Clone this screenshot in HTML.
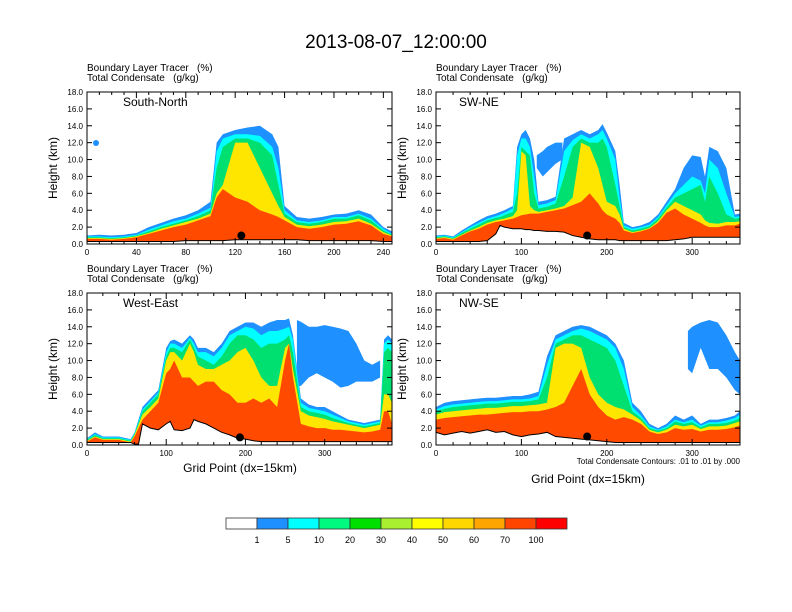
<!DOCTYPE html>
<html><head><meta charset="utf-8">
<style>
html,body{margin:0;padding:0;background:#fff;}
svg{display:block;font-family:"Liberation Sans",sans-serif;}
text{white-space:pre;}
</style></head>
<body>
<svg id="chart" width="792" height="612" viewBox="0 0 792 612">
<text x="396" y="48" font-size="19" text-anchor="middle">2013-08-07_12:00:00</text>
</svg>
<script>
// ---------- data ----------
const levelNames = ["1","5","10","20","30","40","50","60","70","100"];
const levelColors = ["#ffffff","#1e90ff","#00ffff","#00fa80","#00e000","#a8f030","#ffff00","#ffd700","#ffa500","#ff4500","#ff0000"];

// Panel 1: South-North
const p1X = [0,10,20,30,40,50,60,70,80,90,100,105,110,120,130,140,150,155,160,170,180,190,200,210,220,230,240,247];
const p1Terrain = [0.3,0.3,0.3,0.3,0.3,0.3,0.3,0.3,0.4,0.4,0.4,0.4,0.4,0.5,0.5,0.5,0.5,0.5,0.5,0.5,0.4,0.4,0.4,0.4,0.4,0.4,0.3,0.3];
const p1Blue = [1.0,1.1,1.0,1.1,1.3,2.0,2.5,3.0,3.4,4.0,5.0,12.0,13.0,13.5,13.8,14.0,13.0,11.5,4.5,3.2,3.0,3.2,3.5,3.6,4.0,3.5,2.0,1.5];
const p1Cyan = [0.9,0.9,0.8,0.9,1.1,1.7,2.2,2.7,3.0,3.6,4.3,11.0,12.5,13.0,13.0,12.8,11.5,9.0,4.0,2.8,2.6,2.8,3.2,3.2,3.6,3.0,1.8,1.2];
const p1Green = [0.8,0.8,0.7,0.8,1.0,1.5,2.0,2.4,2.8,3.3,4.0,9.0,11.5,12.5,12.5,12.0,10.5,7.0,3.6,2.6,2.4,2.6,3.0,3.0,3.4,2.8,1.6,1.1];
const p1Yellow = [0.7,0.7,0.6,0.7,0.9,1.3,1.8,2.2,2.6,3.0,3.6,6.0,7.0,12.0,12.0,9.0,6.0,4.5,3.2,2.3,2.1,2.3,2.6,2.7,3.0,2.4,1.4,1.0];
const p1Red = [0.6,0.6,0.5,0.6,0.8,1.2,1.6,2.0,2.3,2.8,3.3,5.5,6.5,5.5,5.0,4.0,3.5,3.2,2.8,2.0,1.8,2.0,2.3,2.4,2.7,2.2,1.2,0.9];
const p1UpBase = [];
const p1UpTop = [];
const p1UpX = [];

// Panel 2: SW-NE
const p2X = [0,10,20,30,40,50,60,70,75,80,90,95,100,105,110,115,120,130,140,150,160,170,180,190,195,200,210,215,220,230,240,250,260,270,280,290,300,310,315,320,330,340,350,356];
const p2Terrain = [0.3,0.3,0.3,0.3,0.3,0.3,0.4,1.2,2.2,2.0,1.8,1.8,1.8,1.7,1.7,1.6,1.6,1.5,1.5,1.4,1.0,0.8,0.6,0.5,0.5,0.5,0.5,0.4,0.4,0.4,0.4,0.4,0.4,0.4,0.5,0.6,0.8,0.8,0.8,0.8,0.8,0.8,0.8,0.8];
const p2Blue = [1.0,1.1,0.9,1.6,2.2,2.8,3.3,3.6,3.8,4.0,4.5,11.5,13.0,13.5,12.5,10.0,5.0,5.2,5.6,12.5,13.0,13.5,13.0,13.5,14.2,13.2,11.0,7.0,2.5,2.0,2.2,2.6,3.5,5.0,6.5,9.0,10.5,10.3,8.0,11.5,11.0,9.0,3.5,3.6];
const p2Cyan = [0.9,1.0,0.8,1.4,2.0,2.5,3.0,3.3,3.5,3.7,4.2,10.5,12.5,12.5,11.5,8.0,4.6,4.8,5.2,11.0,12.3,13.0,12.5,13.0,13.5,12.5,10.0,5.5,2.2,1.8,2.0,2.3,3.2,4.6,6.0,7.0,8.0,7.5,6.0,10.0,9.0,6.0,3.2,3.3];
const p2Green = [0.8,0.9,0.7,1.3,1.8,2.3,2.8,3.1,3.2,3.4,3.8,6.0,11.5,11.0,10.5,6.0,4.2,4.4,4.8,8.0,11.5,12.5,12.0,12.0,12.5,11.5,7.0,4.5,2.0,1.6,1.8,2.1,3.0,4.3,5.5,6.0,6.5,7.0,5.0,8.0,6.0,3.5,3.0,3.1];
const p2Yellow = [0.7,0.8,0.6,1.1,1.6,2.0,2.5,2.8,2.9,3.0,3.3,4.0,11.0,10.5,4.5,4.0,3.8,4.0,4.2,4.5,5.5,12.0,11.5,9.0,7.0,5.0,4.5,3.5,1.8,1.4,1.6,1.9,2.7,4.0,5.0,4.5,4.0,3.5,2.8,2.5,2.4,2.6,2.6,2.7];
const p2Red = [0.6,0.7,0.5,1.0,1.5,1.8,2.3,2.6,2.7,2.8,3.0,3.2,3.4,3.5,3.6,3.6,3.6,3.8,4.0,4.2,4.6,5.0,6.0,4.8,4.0,3.5,3.0,2.5,1.6,1.3,1.5,1.8,2.5,3.7,4.2,3.5,3.0,2.5,2.2,2.0,2.0,2.2,2.2,2.4];
const p2UpX = [118,125,130,140,148];
const p2UpBase = [9.0,8.0,8.5,9.5,10.0];
const p2UpTop = [10.5,11.0,11.5,12.0,12.0];

// Panel 3: West-East
const p3X = [0,10,20,30,40,50,55,60,65,70,80,90,100,105,110,120,130,135,140,150,160,170,180,190,200,210,220,230,240,250,255,260,270,280,290,300,310,320,330,340,350,360,370,375,380,385];
const p3Terrain = [0.3,0.3,0.3,0.3,0.3,0.3,0.3,0.1,0.1,2.5,2.0,1.8,2.5,2.8,1.8,1.7,2.0,3.0,2.8,2.5,2.0,1.5,1.2,0.8,0.7,0.5,0.4,0.4,0.4,0.4,0.4,0.4,0.4,0.4,0.4,0.4,0.4,0.4,0.4,0.4,0.4,0.4,0.4,0.4,0.4,0.4];
const p3Blue = [0.8,1.5,1.0,1.0,1.0,0.8,0.7,1.5,3.0,4.5,5.5,6.5,11.5,12.3,12.5,12.0,13.0,12.5,11.5,11.5,11.0,12.0,13.5,14.0,14.5,14.5,14.0,14.5,14.8,14.8,15.0,13.0,5.5,4.8,4.5,4.5,4.0,3.5,3.0,2.8,2.6,2.8,3.0,12.5,13.0,12.5];
const p3Cyan = [0.7,1.3,0.9,0.9,0.9,0.7,0.6,1.4,2.8,4.2,5.2,6.2,11.0,12.0,12.0,11.5,12.7,12.0,11.0,11.0,10.5,11.5,13.0,13.5,14.0,13.8,13.0,13.5,13.5,13.8,14.0,12.5,5.0,4.4,4.2,4.0,3.6,3.2,2.8,2.6,2.4,2.6,2.8,12.0,12.5,12.0];
const p3Green = [0.6,1.2,0.8,0.8,0.8,0.6,0.5,1.3,2.6,4.0,5.0,6.0,10.5,11.5,11.5,11.0,12.5,11.5,10.5,10.0,9.5,10.5,12.0,13.0,13.0,12.5,11.5,12.0,12.0,12.5,13.0,11.0,4.5,4.0,3.8,3.6,3.2,2.9,2.6,2.4,2.2,2.4,2.6,11.0,11.5,11.0];
const p3Yellow = [0.5,1.0,0.7,0.7,0.7,0.5,0.4,1.2,2.4,3.6,4.5,5.5,10.0,11.0,11.0,10.0,12.0,11.0,9.5,9.0,9.0,9.5,10.0,11.0,11.5,10.0,8.0,7.0,7.0,11.5,12.0,9.0,4.0,3.5,3.3,3.1,2.8,2.6,2.4,2.2,2.0,2.2,2.4,6.0,6.0,5.0];
const p3Red = [0.4,0.9,0.6,0.6,0.6,0.4,0.3,1.0,2.0,3.0,4.0,5.0,8.5,9.0,10.0,8.0,8.0,7.5,7.0,7.5,7.5,6.5,6.0,5.0,5.0,5.5,5.0,5.5,4.5,10.0,12.0,8.0,2.5,2.2,2.0,2.0,1.8,1.8,1.7,1.6,1.5,1.6,1.8,4.0,4.0,2.5];
const p3UpX = [265,270,280,290,300,310,320,330,340,350,360,370];
const p3UpBase = [7.0,7.0,8.0,8.5,8.0,7.5,6.8,7.0,7.5,7.5,7.5,8.0];
const p3UpTop = [14.8,14.6,14.0,14.0,14.2,14.0,13.8,13.5,12.0,10.0,9.5,10.0];

// Panel 4: NW-SE
const p4X = [0,10,20,30,40,50,60,70,80,90,100,110,120,130,140,150,160,170,180,190,200,210,220,230,240,250,260,270,280,290,300,310,320,330,340,350,356];
const p4Terrain = [1.5,1.2,1.4,1.6,1.4,1.6,1.8,1.5,1.6,1.2,1.0,1.2,1.3,1.5,1.0,0.9,0.8,0.7,0.6,0.5,0.4,0.3,0.3,0.3,0.3,0.3,0.3,0.3,0.3,0.3,0.3,0.3,0.3,0.3,0.3,0.3,0.3];
const p4Blue = [4.5,5.0,5.2,5.3,5.4,5.5,5.6,5.6,5.7,5.8,5.8,6.0,6.3,10.5,13.0,13.5,14.0,14.2,14.0,13.5,13.0,12.0,10.0,5.0,4.0,2.5,2.0,2.5,3.5,3.0,3.5,2.5,3.0,3.0,3.2,3.5,4.0];
const p4Cyan = [4.2,4.6,4.8,4.9,5.0,5.1,5.2,5.2,5.3,5.4,5.4,5.5,5.8,9.5,12.5,13.0,13.5,13.8,13.5,13.0,12.5,11.5,9.0,4.5,3.5,2.2,1.8,2.2,3.0,2.7,3.0,2.3,2.7,2.7,2.9,3.2,3.6];
const p4Green = [4.0,4.3,4.5,4.6,4.7,4.8,4.9,4.9,5.0,5.1,5.1,5.2,5.4,8.0,12.0,12.5,13.0,13.0,12.5,12.0,11.5,10.0,7.0,4.0,3.2,2.0,1.7,2.0,2.8,2.5,2.7,2.1,2.5,2.5,2.6,2.9,3.2];
const p4Yellow = [3.6,3.9,4.0,4.1,4.2,4.3,4.4,4.4,4.5,4.6,4.6,4.7,4.8,5.0,11.5,12.0,12.0,11.5,8.0,6.0,5.0,4.5,4.2,3.6,2.9,1.8,1.5,1.8,2.4,2.2,2.4,1.9,2.2,2.2,2.3,2.6,2.8];
const p4Red = [3.0,3.2,3.3,3.4,3.5,3.6,3.6,3.7,3.8,3.9,3.9,4.0,4.0,4.2,4.5,5.0,7.0,9.0,6.0,4.5,3.5,3.0,3.3,3.0,2.5,1.6,1.3,1.5,2.0,1.8,1.9,1.6,1.8,1.8,1.9,2.1,2.3];
const p4UpX = [295,300,310,320,330,340,350,356];
const p4UpBase = [9.0,8.5,11.5,9.0,9.0,8.0,6.5,6.0];
const p4UpTop = [13.5,14.0,14.5,14.8,14.5,13.0,11.0,10.0];

const yTicks = [0,2,4,6,8,10,12,14,16,18];
const yTickLabels = ["0.0","2.0","4.0","6.0","8.0","10.0","12.0","14.0","16.0","18.0"];

const panels = [
 {key:"south-north",label:"South-North",box:[87,92,392,244],xmax:247,xTicks:[0,40,80,120,160,200,240],minor:10,
  X:p1X,T:p1Terrain,L:[p1Blue,p1Cyan,p1Green,p1Yellow,p1Red],UX:p1UpX,UB:p1UpBase,UT:p1UpTop,dot:[125,1.0]},
 {key:"sw-ne",label:"SW-NE",box:[436,92,740,244],xmax:356,xTicks:[0,100,200,300],minor:20,
  X:p2X,T:p2Terrain,L:[p2Blue,p2Cyan,p2Green,p2Yellow,p2Red],UX:p2UpX,UB:p2UpBase,UT:p2UpTop,dot:[177,1.0]},
 {key:"west-east",label:"West-East",box:[87,293,392,445],xmax:385,xTicks:[0,100,200,300],minor:20,
  X:p3X,T:p3Terrain,L:[p3Blue,p3Cyan,p3Green,p3Yellow,p3Red],UX:p3UpX,UB:p3UpBase,UT:p3UpTop,dot:[193,0.9]},
 {key:"nw-se",label:"NW-SE",box:[436,293,740,445],xmax:356,xTicks:[0,100,200,300],minor:20,
  X:p4X,T:p4Terrain,L:[p4Blue,p4Cyan,p4Green,p4Yellow,p4Red],UX:p4UpX,UB:p4UpBase,UT:p4UpTop,dot:[177,1.0]}
];
const fillColors = ["#1e90ff","#00ffff","#00e070","#ffe600","#ff4a00"];

const NS="http://www.w3.org/2000/svg";
const svg=document.getElementById('chart');
function mk(tag,attrs,parent){const e=document.createElementNS(NS,tag);for(const k in attrs)e.setAttribute(k,attrs[k]);(parent||svg).appendChild(e);return e;}

panels.forEach((p,pi)=>{
  const [x0,y0,x1,y1]=p.box;
  const sx=v=>x0+(v/p.xmax)*(x1-x0);
  const sy=v=>y1-(v/18)*(y1-y0);
  const g=mk('g',{});
  
  
  const cid='clip'+pi;
  const cp=mk('clipPath',{id:cid},g);mk('rect',{x:x0,y:y0,width:x1-x0,height:y1-y0},cp);
  const plot=mk('g',{'clip-path':'url(#'+cid+')'},g);
  p.L.forEach((arr,li)=>{
    let d='M'+sx(p.X[0])+','+sy(p.T[0]);
    p.X.forEach((xv,i)=>{d+='L'+sx(xv)+','+sy(arr[i]);});
    for(let i=p.X.length-1;i>=0;i--)d+='L'+sx(p.X[i])+','+sy(p.T[i]);
    const path=mk('path',{d:d+'Z',fill:fillColors[li]},plot);
    
    
    if(li===0 && p.UX.length){
      let u='M'+sx(p.UX[0])+','+sy(p.UB[0]);
      p.UX.forEach((xv,i)=>{u+='L'+sx(xv)+','+sy(p.UT[i]);});
      for(let i=p.UX.length-1;i>=0;i--)u+='L'+sx(p.UX[i])+','+sy(p.UB[i]);
      const up=mk('path',{d:u+'Z',fill:fillColors[0]},plot);
      
      
    }
  });
  let t='M'+sx(p.X[0])+','+sy(0);
  p.X.forEach((xv,i)=>{t+='L'+sx(xv)+','+sy(p.T[i]);});
  t+='L'+sx(p.X[p.X.length-1])+','+sy(0)+'Z';
  const terr=mk('path',{d:t,fill:'#fff',stroke:'#000','stroke-width':1},plot);
  
  
  const dot=mk('circle',{cx:sx(p.dot[0]),cy:sy(p.dot[1]),r:4,fill:'#000'},plot);
  
  
  const fr=mk('rect',{x:x0,y:y0,width:x1-x0,height:y1-y0,fill:'none',stroke:'#000','stroke-width':1},g);
  
  
  yTicks.forEach((v,i)=>{
    const y=sy(v);
    mk('line',{x1:x0,x2:x0+5,y1:y,y2:y,stroke:'#000'},g);
    mk('line',{x1:x1,x2:x1-5,y1:y,y2:y,stroke:'#000'},g);
    const tl=mk('text',{x:x0-4,y:y+3,'font-size':8,'text-anchor':'end'},g);
    tl.textContent=yTickLabels[i];
    
    
  });
  for(let v=0;v<=p.xmax;v+=p.minor){
    const x=sx(v);const maj=p.xTicks.includes(v);const L=maj?6:3;
    mk('line',{x1:x,x2:x,y1:y1,y2:y1-L,stroke:'#000'},g);
    mk('line',{x1:x,x2:x,y1:y0,y2:y0+L,stroke:'#000'},g);
  }
  p.xTicks.forEach(v=>{
    const tl=mk('text',{x:sx(v),y:y1+11,'font-size':8,'text-anchor':'middle'},g);
    tl.textContent=String(v);
    
    
  });
  const h1=mk('text',{x:x0,y:y0-21,'font-size':10},g);h1.textContent='Boundary Layer Tracer   (%)';
  
  
  const h2=mk('text',{x:x0,y:y0-11,'font-size':10},g);h2.textContent='Total Condensate   (g/kg)';
  
  
  const pl=mk('text',{x:x0+(pi%2?23:36),y:y0+14,'font-size':12},g);pl.textContent=p.label;
  
  
  const yl=mk('text',{x:0,y:0,'font-size':12,'text-anchor':'middle',transform:'translate('+(x0-30)+','+((y0+y1)/2)+') rotate(-90)'},g);
  yl.textContent='Height (km)';
  
  
});
(function(){const c=mk('circle',{cx:96,cy:143,r:3,fill:'#1e90ff'});

})();

const xt1=mk('text',{x:240,y:472,'font-size':12,'text-anchor':'middle'});xt1.textContent='Grid Point (dx=15km)';


const xt2=mk('text',{x:588,y:483,'font-size':12,'text-anchor':'middle'});xt2.textContent='Grid Point (dx=15km)';


const note=mk('text',{x:740,y:464,'font-size':8,'text-anchor':'end'});note.textContent='Total Condensate Contours: .01 to .01 by .000';



const cb=mk('g',{});


const cbX=226,cbW=31,cbY=518,cbH=11;
levelColors.forEach((c,i)=>{
  const r=mk('rect',{x:cbX+i*cbW,y:cbY,width:cbW,height:cbH,fill:c,stroke:'#333','stroke-width':0.8},cb);
  
  
});
levelNames.forEach((n,i)=>{
  const t=mk('text',{x:cbX+(i+1)*cbW,y:543,'font-size':9,'text-anchor':'middle'},cb);
  t.textContent=n;
  
  
});
</script>
</body></html>
